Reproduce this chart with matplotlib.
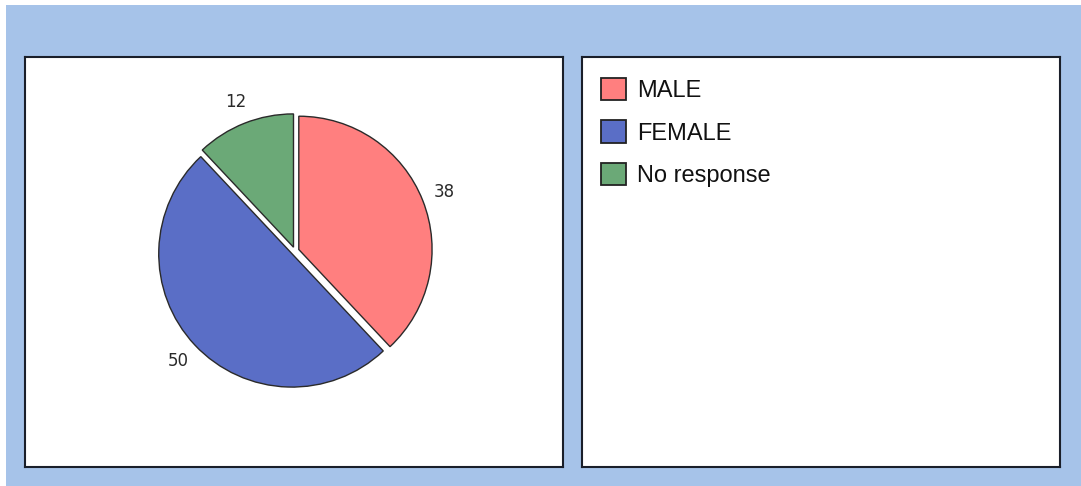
import matplotlib
matplotlib.use("Agg")
import matplotlib.pyplot as plt
from matplotlib.patches import Rectangle, Patch

categories = ["MALE", "FEMALE", "No response"]
values = [38, 50, 12]
colors = ["#FF7F7F", "#5A6EC6", "#6BA977"]

W, H = 1081, 486
fig = plt.figure(figsize=(W / 100, H / 100), dpi=100, facecolor="white")

def fx(px):
    return px / W

def fy(py):
    return 1 - py / H

# light blue frame background
bg = Rectangle((fx(6), 0), 1 - fx(6), fy(5), transform=fig.transFigure,
               facecolor="#A6C3E9", edgecolor="none", zorder=-10)
fig.patches.append(bg)

def panel(x0, y0, x1, y1):
    ax = fig.add_axes([fx(x0), fy(y1), fx(x1 - x0), (y1 - y0) / H])
    ax.set_facecolor("white")
    ax.set_xticks([])
    ax.set_yticks([])
    for s in ax.spines.values():
        s.set_color("#1a1f2a")
        s.set_linewidth(1.5)
    return ax

left = panel(25, 57, 563, 467)
right = panel(582, 57, 1060, 467)

# pie axes
cx, cy, side = 295, 251, 340
pax = fig.add_axes([fx(cx - side / 2), fy(cy + side / 2), fx(side), side / H])
pax.set_zorder(5)
pax.patch.set_visible(False)
wedges, texts = pax.pie(values, colors=colors, startangle=90, counterclock=False,
                        radius=0.98,
                        explode=[0.03] * len(values), labels=[str(v) for v in values],
                        labeldistance=1.17,
                        wedgeprops=dict(edgecolor="#2a2a2a", linewidth=1.0),
                        textprops=dict(fontsize=12, color="#2a2a2a", family="DejaVu Sans"))
for t in texts:
    t.set_ha("center")
    t.set_va("center")
pax.set_xlim(-1.25, 1.25)
pax.set_ylim(-1.25, 1.25)
pax.axis("off")

handles = [Patch(facecolor=c, edgecolor="#222222", linewidth=1.3) for c in colors]
leg = right.legend(handles, categories, loc="upper left",
                   bbox_to_anchor=(fx(601), fy(78)), bbox_transform=fig.transFigure,
                   frameon=False, borderpad=0, borderaxespad=0,
                   prop=dict(family="Liberation Sans", size=17),
                   handlelength=1.06, handleheight=1.06, handletextpad=0.45,
                   labelspacing=0.78)
for t in leg.get_texts():
    t.set_color("#111111")

fig.savefig("out.png", dpi=100, facecolor=fig.get_facecolor())
